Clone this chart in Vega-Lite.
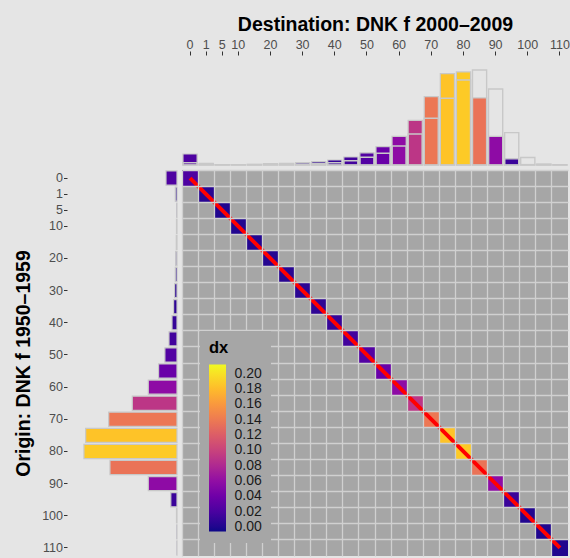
{
  "$schema": "https://vega.github.io/schema/vega-lite/v6.json",
  "background": "#E5E5E5",
  "padding": {"left": 13, "top": 14, "right": 3, "bottom": 3},
  "config": {"font": "Liberation Sans", "view": {"stroke": null}},
  "datasets": {
    "dx": [
      {"age": "0", "origin_dx": 0.0222, "dest_dx": 0.0046},
      {"age": "1", "origin_dx": 0.0034, "dest_dx": 0.001},
      {"age": "5", "origin_dx": 0.0006, "dest_dx": 0.0006},
      {"age": "10", "origin_dx": 0.001, "dest_dx": 0.0006},
      {"age": "15", "origin_dx": 0.0014, "dest_dx": 0.0008},
      {"age": "20", "origin_dx": 0.0026, "dest_dx": 0.001},
      {"age": "25", "origin_dx": 0.0034, "dest_dx": 0.0012},
      {"age": "30", "origin_dx": 0.0048, "dest_dx": 0.002},
      {"age": "35", "origin_dx": 0.0069, "dest_dx": 0.003},
      {"age": "40", "origin_dx": 0.0101, "dest_dx": 0.0046},
      {"age": "45", "origin_dx": 0.0162, "dest_dx": 0.0087},
      {"age": "50", "origin_dx": 0.0245, "dest_dx": 0.0156},
      {"age": "55", "origin_dx": 0.0372, "dest_dx": 0.0236},
      {"age": "60", "origin_dx": 0.058, "dest_dx": 0.0384},
      {"age": "65", "origin_dx": 0.0903, "dest_dx": 0.0626},
      {"age": "70", "origin_dx": 0.138, "dest_dx": 0.0943},
      {"age": "75", "origin_dx": 0.1845, "dest_dx": 0.1347},
      {"age": "80", "origin_dx": 0.188, "dest_dx": 0.1717},
      {"age": "85", "origin_dx": 0.1354, "dest_dx": 0.1919},
      {"age": "90", "origin_dx": 0.058, "dest_dx": 0.1535},
      {"age": "95", "origin_dx": 0.0125, "dest_dx": 0.0653},
      {"age": "100", "origin_dx": 0.001, "dest_dx": 0.015},
      {"age": "105", "origin_dx": 0.0004, "dest_dx": 0.002},
      {"age": "110", "origin_dx": 0.0002, "dest_dx": 0.0004}
    ]
  },
  "columns": 2,
  "spacing": 5,
  "bounds": "flush",
  "align": "each",
  "resolve": {"scale": {"color": "independent"}, "legend": {"color": "independent"}},
  "concat": [
    {
      "width": 110, "height": 110,
      "data": {"values": []},
      "mark": "point",
      "encoding": {}
    },
    {
      "width": 386, "height": 110,
      "data": {"name": "dx"},
      "layer": [
        {
          "mark": {"type": "bar", "stroke": "#C8C8C8", "strokeWidth": 1.2, "width": {"band": 0.88}},
          "encoding": {
            "x": {"field": "age", "type": "ordinal",
              "scale": {"domain": ["0","1","5","10","15","20","25","30","35","40","45","50","55","60","65","70","75","80","85","90","95","100","105","110"], "paddingInner": 0, "paddingOuter": 0},
              "axis": {"orient": "top", "values": ["0","1","5","10","20","30","40","50","60","70","80","90","100","110"],
                "labelAngle": 0, "labelFontSize": 12.5, "labelColor": "#4D4D4D", "tickColor": "#333333", "tickSize": 4, "labelPadding": 0,
                "domain": false, "grid": false, "title": "Destination: DNK f 2000–2009", "titleFontSize": 19.5, "titleFontWeight": "bold", "titleColor": "#000000", "titlePadding": 4}},
            "y": {"field": "origin_dx", "type": "quantitative", "scale": {"domain": [0, 0.2222], "nice": false}, "axis": null},
            "color": {"field": "origin_dx", "type": "quantitative", "scale": {"scheme": "plasma", "domain": [-0.006, 0.212]}, "legend": null}
          }
        },
        {
          "mark": {"type": "bar", "fill": "transparent", "stroke": "#C8C8C8", "strokeWidth": 1.4, "width": {"band": 0.88}},
          "encoding": {
            "x": {"field": "age", "type": "ordinal"},
            "y": {"field": "dest_dx", "type": "quantitative"}
          }
        }
      ]
    },
    {
      "width": 110, "height": 386,
      "data": {"name": "dx"},
      "mark": {"type": "bar", "orient": "horizontal", "stroke": "#C8C8C8", "strokeWidth": 1.2, "height": {"band": 0.88}},
      "encoding": {
        "y": {"field": "age", "type": "ordinal",
          "scale": {"domain": ["0","1","5","10","15","20","25","30","35","40","45","50","55","60","65","70","75","80","85","90","95","100","105","110"], "paddingInner": 0, "paddingOuter": 0},
          "axis": {"orient": "left", "values": ["0","1","5","10","20","30","40","50","60","70","80","90","100","110"],
            "labelFontSize": 12.5, "labelColor": "#4D4D4D", "tickColor": "#333333", "tickSize": 3.5, "labelPadding": 1,
            "domain": false, "grid": false, "title": "Origin: DNK f 1950–1959", "titleFontSize": 19.5, "titleFontWeight": "bold", "titleColor": "#000000", "titlePadding": 8}},
        "x": {"field": "origin_dx", "type": "quantitative", "scale": {"domain": [0, 0.2222], "nice": false, "reverse": true}, "axis": null},
        "color": {"field": "origin_dx", "type": "quantitative", "scale": {"scheme": "plasma", "domain": [-0.006, 0.212]}, "legend": null}
      }
    },
    {
      "width": 386, "height": 386,
      "view": {"fill": "#A6A6A6", "stroke": null},
      "data": {"name": "dx"},
      "layer": [
        {
          "mark": {"type": "rect"},
          "encoding": {
            "x": {"field": "age", "type": "ordinal",
              "scale": {"domain": ["0","1","5","10","15","20","25","30","35","40","45","50","55","60","65","70","75","80","85","90","95","100","105","110"], "paddingInner": 0, "paddingOuter": 0},
              "axis": {"orient": "top", "grid": true, "gridColor": "#D0D0D0", "gridWidth": 1.3, "bandPosition": 0, "labels": false, "ticks": false, "domain": false, "title": null}},
            "y": {"field": "age", "type": "ordinal",
              "scale": {"domain": ["0","1","5","10","15","20","25","30","35","40","45","50","55","60","65","70","75","80","85","90","95","100","105","110"], "paddingInner": 0, "paddingOuter": 0},
              "axis": {"orient": "left", "grid": true, "gridColor": "#D0D0D0", "gridWidth": 1.3, "bandPosition": 0, "labels": false, "ticks": false, "domain": false, "title": null}},
            "color": {"field": "origin_dx", "type": "quantitative", "scale": {"scheme": "plasma", "domain": [-0.006, 0.212]},
              "legend": {"orient": "none", "legendX": 18, "legendY": 161, "zindex": 5, "title": "dx", "direction": "vertical",
                "gradientLength": 167, "gradientThickness": 17, "gradientStrokeWidth": 0,
                "values": [0, 0.02, 0.04, 0.06, 0.08, 0.1, 0.12, 0.14, 0.16, 0.18, 0.2], "format": ".2f",
                "labelFontSize": 14, "labelColor": "#1A1A1A", "labelOffset": 8.5, "labelOverlap": false,
                "titleFontSize": 16.5, "titleFontWeight": "bold", "titleColor": "#000000", "titlePadding": 8,
                "padding": 9, "fillColor": "#A6A6A6"}}
          }
        },
        {
          "transform": [{"filter": "datum.age == '0' || datum.age == '110'"}],
          "mark": {"type": "line", "color": "#FF0000", "strokeWidth": 4},
          "encoding": {
            "x": {"field": "age", "type": "ordinal"},
            "y": {"field": "age", "type": "ordinal"}
          }
        }
      ]
    }
  ]
}
